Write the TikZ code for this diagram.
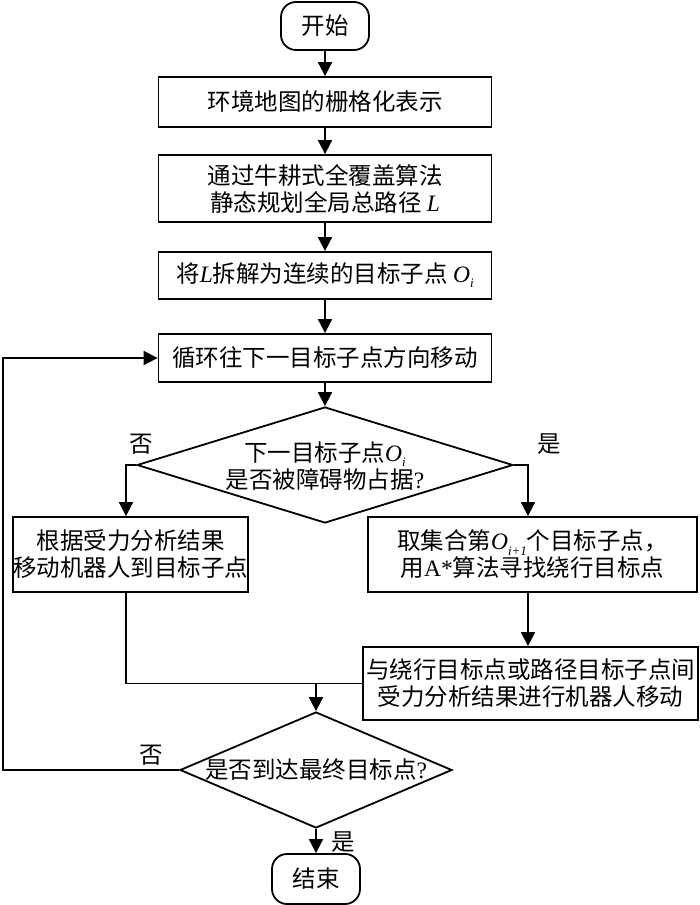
\documentclass[tikz,border=0pt]{standalone}
\usepackage{fontspec}
\setmainfont{Liberation Serif}
\newfontfamily\cjk{Noto Sans CJK SC}
\usetikzlibrary{shapes.geometric,arrows.meta}
\newcommand\lat[1]{{\rmfamily #1}}
\newcommand\itl[1]{{\rmfamily\itshape #1}}
\newcommand\sub[1]{\raisebox{-0.4ex}{\rmfamily\itshape\fontsize{13}{13}\selectfont #1}}
\tikzset{
  every node/.style={font=\cjk\fontsize{23.5}{27}\selectfont, inner sep=0pt},
  procbox/.style={draw, line width=1.8pt, rectangle, align=center},
  termbox/.style={draw, line width=1.8pt, rectangle, rounded corners=15pt, align=center},
  decbox/.style={draw, line width=1.8pt, diamond, inner sep=0pt},
  conn/.style={line width=1.8pt},
  arr/.style={line width=1.8pt, -{Triangle[length=14pt,width=14pt]}},
}
\begin{document}
\begin{tikzpicture}[x=1pt,y=-1pt]
\fill[white] (0,0) rectangle (700,905);
\useasboundingbox (0,0) rectangle (700,905);

\node[termbox, minimum width=88pt, minimum height=48pt] (start) at (325,26) {开始};
\node[procbox, minimum width=333pt, minimum height=50pt] (b1) at (325,102) {环境地图的栅格化表示};
\node[procbox, minimum width=333pt, minimum height=67pt] (b2) at (325,188.5) {通过牛耕式全覆盖算法\\静态规划全局总路径 \itl{L}};
\node[procbox, minimum width=333pt, minimum height=47pt] (b3) at (325,275.5) {将\itl{L}拆解为连续的目标子点 \itl{O}\sub{i}};
\node[procbox, minimum width=333pt, minimum height=48pt] (b4) at (325,358) {循环往下一目标子点方向移动};

\node[decbox, minimum width=376pt, minimum height=116pt] (d1) at (325,465) {};
\node[align=center] (d1t) at (325,466) {下一目标子点\itl{O}\sub{i}\\是否被障碍物占据\lat{?}};

\node[procbox, minimum width=233pt, minimum height=75pt] (lbox) at (130.5,554.5) {根据受力分析结果\\移动机器人到目标子点};
\node[procbox, minimum width=329pt, minimum height=75pt] (rbox) at (532.5,554.5) {取集合第\itl{O}\sub{i+1}个目标子点，\\用\lat{A*}算法寻找绕行目标点};
\node[procbox, minimum width=335pt, minimum height=73pt] (b5) at (530.5,683.5) {与绕行目标点或路径目标子点间\\受力分析结果进行机器人移动};

\node[decbox, minimum width=272pt, minimum height=116pt] (d2) at (316,770) {};
\node (d2t) at (316,770) {是否到达最终目标点\lat{?}};

\node[termbox, minimum width=88pt, minimum height=50pt] (end) at (316,879) {结束};

\node (no1) at (141,444) {否};
\node (yes1) at (549,444) {是};
\node (no2) at (151,755) {否};
\node (yes2) at (343,842) {是};

\coordinate (bl) at (126,465);
\coordinate (br) at (528,465);
\coordinate (m) at (316,683.5);
\coordinate (lp) at (3,0);

\draw[arr] (start) -- (b1);
\draw[arr] (b1) -- (b2);
\draw[arr] (b2) -- (b3);
\draw[arr] (b3) -- (b4);
\draw[arr] (b4) -- (d1);
\draw[arr] (d1.west) -- (bl) -- (bl |- lbox.north);
\draw[arr] (d1.east) -- (br) -- (br |- rbox.north);
\draw[arr] (br |- rbox.south) -- (br |- b5.north);
\draw[conn] (bl |- lbox.south) -- (bl |- b5.west) -- (b5.west);
\draw[arr] (m) -- (d2.north);
\draw[arr] (d2.south) -- (end.north);
\draw[arr] (d2.west) -- (d2.west -| lp) -- (lp |- b4.west) -- (b4.west);
\end{tikzpicture}
\end{document}
